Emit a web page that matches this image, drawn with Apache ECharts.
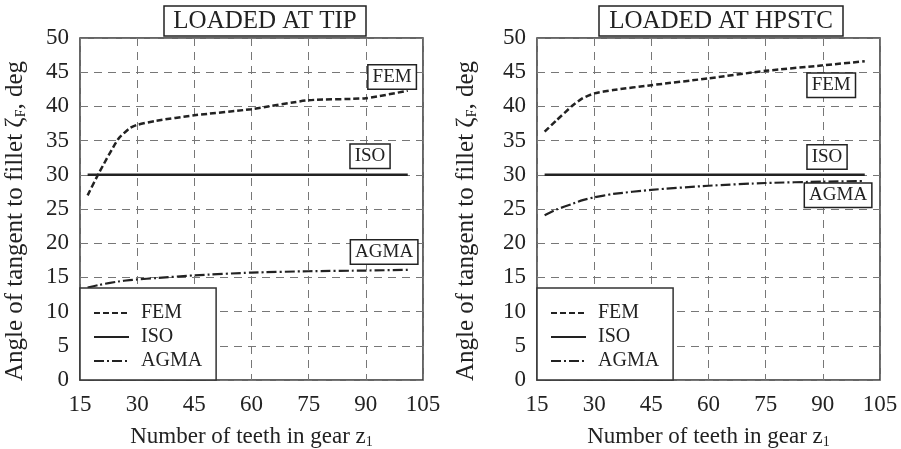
<!DOCTYPE html>
<html>
<head>
<meta charset="utf-8">
<script src="https://cdn.jsdelivr.net/npm/echarts@6/dist/echarts.min.js"></script>
<style>
  html, body { margin: 0; padding: 0; background: #fff; }
  #chart { width: 901px; height: 449px; }
</style>
</head>
<body>
<div id="chart"></div>
<script>
// tick labels
const xTicks = [15, 30, 45, 60, 75, 90, 105];
const yTicks = [0, 5, 10, 15, 20, 25, 30, 35, 40, 45, 50];

// loaded at tip
const zTip = [17, 20, 25, 28, 30, 35, 45, 60, 75, 90, 101];
const femTip = [27.0, 30.3, 35.2, 36.8, 37.3, 37.9, 38.7, 39.6, 40.9, 41.2, 42.3];
const isoTip = [30, 30, 30, 30, 30, 30, 30, 30, 30, 30, 30];
const agmaTip = [13.5, 13.9, 14.4, 14.6, 14.7, 14.9, 15.3, 15.7, 15.9, 16.0, 16.1];

// loaded at HPSTC
const zHp = [17, 20, 24.5, 27, 30, 35, 45, 60, 75, 90, 101];
const femHp = [36.3, 37.9, 40.2, 41.2, 41.9, 42.4, 43.1, 44.1, 45.2, 46.0, 46.6];
const isoHp = [30, 30, 30, 30, 30, 30, 30, 30, 30, 30, 30];
const agmaHp = [24.1, 24.9, 25.8, 26.3, 26.7, 27.2, 27.8, 28.4, 28.8, 29.0, 29.1];

const titles = ["LOADED AT TIP", "LOADED AT HPSTC"];
const seriesNames = ["FEM", "ISO", "AGMA"];

const serif = "Liberation Serif";
const ink = "#222";

function pairs(xs, ys) {
  return xs.map((x, i) => [x, ys[i]]);
}

// boxed curve label, placed in data coordinates
function tag(text, coord) {
  return {
    symbol: "rect",
    symbolSize: 1,
    itemStyle: { color: "transparent" },
    data: [{ coord: coord, value: text }],
    label: {
      show: true,
      position: "inside",
      formatter: text,
      fontFamily: serif,
      fontSize: 19,
      color: ink,
      backgroundColor: "#fff",
      borderColor: ink,
      borderWidth: 1.5,
      padding: [3, 4, 1, 4],
    },
  };
}

const lineStyles = [
  { width: 2.5, type: [6, 3], color: ink },
  { width: 2.5, type: "solid", color: ink },
  { width: 2.2, type: [10, 3, 2, 3], color: ink },
];

const grids = [
  { left: 80, top: 38, width: 343, height: 342 },
  { left: 537, top: 38, width: 343, height: 342 },
];

const xAxes = [0, 1].map((i) => ({
  type: "value",
  gridIndex: i,
  min: 15,
  max: 105,
  interval: 15,
  name: "Number of teeth in gear z{s|1}",
  nameLocation: "middle",
  nameGap: 45,
  nameTextStyle: {
    fontFamily: serif,
    fontSize: 23,
    color: ink,
    rich: { s: { fontFamily: serif, fontSize: 14, color: ink, padding: [10, 0, 0, 0] } },
  },
  axisLine: { show: false },
  axisTick: { show: false },
  axisLabel: { fontFamily: serif, fontSize: 23, color: ink, margin: 13 },
  splitLine: { show: true, lineStyle: { color: "#777", type: [8, 6], width: 1 } },
}));

const yAxes = [0, 1].map((i) => ({
  type: "value",
  gridIndex: i,
  min: 0,
  max: 50,
  interval: 5,
  name: "{a|Angle of tangent to fillet ζ}{s|F}{a|, deg}",
  nameLocation: "middle",
  nameGap: i === 0 ? 52 : 58,
  nameTextStyle: {
    padding: [0, 24, 0, 0],
    rich: {
      a: { fontFamily: serif, fontSize: 25, color: ink },
      s: { fontFamily: serif, fontSize: 14, color: ink, padding: [11, 0, 0, 0] },
    },
  },
  axisLine: { show: false },
  axisTick: { show: false },
  axisLabel: { fontFamily: serif, fontSize: 23, color: ink, margin: 11 },
  splitLine: { show: true, lineStyle: { color: "#777", type: [8, 6], width: 1 } },
}));

function makeSeries(idx, z, fem, iso, agma, tags) {
  return [fem, iso, agma].map((ys, k) => ({
    name: seriesNames[k],
    type: "line",
    xAxisIndex: idx,
    yAxisIndex: idx,
    data: pairs(z, ys),
    showSymbol: false,
    symbol: "none",
    smooth: 0.2,
    lineStyle: lineStyles[k],
    itemStyle: { color: ink },
    markPoint: tag(seriesNames[k], tags[k]),
    z: 3,
  }));
}

const series = [
  ...makeSeries(0, zTip, femTip, isoTip, agmaTip, [[96.9, 44.3], [91.1, 32.7], [94.8, 18.7]]),
  ...makeSeries(1, zHp, femHp, isoHp, agmaHp, [[92.2, 43.1], [91.1, 32.6], [94.0, 27.0]]),
];

const legends = [80, 537].map((left) => ({
  orient: "vertical",
  left: left,
  top: 288,
  padding: [15, 14, 9, 13],
  itemWidth: 35,
  itemHeight: 14,
  itemGap: 4,
  backgroundColor: "#fff",
  borderColor: "#333",
  borderWidth: 1.5,
  data: seriesNames,
  itemStyle: { opacity: 0 },
  textStyle: { fontFamily: serif, fontSize: 20, color: ink, padding: [0, 0, 0, 7] },
  z: 10,
}));

const chart = echarts.init(document.getElementById("chart"));
chart.setOption({
  backgroundColor: "#fff",
  animation: false,
  title: titles.map((t, i) => ({
    text: t,
    left: i === 0 ? 255 : 711,
    textAlign: "center",
    top: 6,
    padding: [3, 10, 2, 10],
    borderColor: ink,
    borderWidth: 1.5,
    backgroundColor: "#fff",
    textStyle: { fontFamily: serif, fontSize: 25, fontWeight: "normal", color: ink },
  })),
  grid: grids.map((g) => ({
    ...g,
    show: true,
    borderColor: "#333",
    borderWidth: 1.5,
    containLabel: false,
    outerBoundsMode: "none",
  })),
  legend: legends,
  xAxis: xAxes,
  yAxis: yAxes,
  series: series,
});
</script>
</body>
</html>
